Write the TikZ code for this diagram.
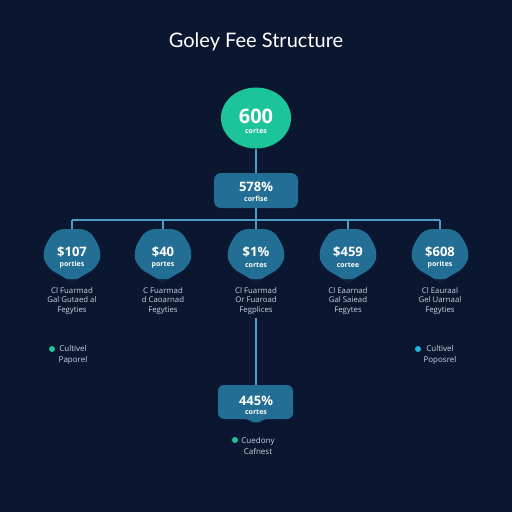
\documentclass[tikz,border=0pt]{standalone}
\usepackage{fontspec}
\setmainfont{Open Sans}
\newfontfamily\titlefont{Lato}
\usetikzlibrary{shapes.geometric}
\definecolor{bg}{HTML}{0B1730}
\definecolor{teal}{HTML}{1CC49A}
\definecolor{nodeblue}{HTML}{226E94}
\definecolor{linec}{HTML}{4C9CC8}
\definecolor{desc}{HTML}{C9D4E2}
\definecolor{cyandot}{HTML}{22B8E0}
\tikzset{
  conn/.style={draw=linec, line width=1.1pt},
  hold/.style={minimum width=58pt, minimum height=52pt, inner sep=0pt},
  bignum/.style={text=white, font=\bfseries\fontsize{13}{13}\selectfont, inner sep=0pt},
  sub/.style={font=\bfseries\fontsize{7}{7}\selectfont, text=white, inner sep=0pt},
  desctext/.style={align=center, text=desc, inner sep=0pt, font=\fontsize{7.8}{9.7}\selectfont},
  legtext/.style={align=center, text=desc, inner sep=0pt, font=\fontsize{8}{10.5}\selectfont},
  blobfill/.style={fill=nodeblue, rounded corners=9pt},
}
\newcommand{\blobshape}[2]{%
  \path[blobfill] (#1-17,#2-26) -- (#1+17,#2-26) -- (#1+30,#2-4) -- (#1+26,#2+12) -- (#1+7,#2+23) -- (#1,#2+27) -- (#1-7,#2+23) -- (#1-26,#2+12) -- (#1-30,#2-4) -- cycle;%
}
\begin{document}
\begin{tikzpicture}[x=1pt,y=-1pt]
\fill[bg] (0,0) rectangle (512,512);
\useasboundingbox (0,0) rectangle (512,512);

\node[text=white, font=\titlefont\fontsize{20}{22}\selectfont] (title) at (256,42) {Goley Fee Structure};

% top circle
\node[ellipse, fill=teal, minimum width=70pt, minimum height=61pt, inner sep=0pt] (top) at (256,118) {};
\node[text=white, font=\bfseries\fontsize{20}{20}\selectfont, inner sep=0pt] (topnum) at (256,116) {600};
\node[sub] (topsub) at (256,131) {cortes};

% middle box
\node[fill=nodeblue, rounded corners=7pt, minimum width=84pt, minimum height=35pt, inner sep=0pt] (mid) at (256,190.5) {};
\node[bignum] (midnum) at (256,187) {578\%};
\node[sub] (midsub) at (256,199) {corfise};

\draw[conn] (top.south) -- (mid.north);

\coordinate (hub) at (256,220);
\coordinate (hl) at (72,220);
\coordinate (hr) at (440,220);
\draw[conn] (mid.south) -- (hub);
\draw[conn] (hl) -- (hr);

% child nodes
\foreach \x/\n/\num/\s/\la/\lb/\lc in {
  72/n1/{\$107}/porties/{Cl Fuarmad}/{Gal Gutaed al}/{Fegyties},
  163/n2/{\$40}/portes/{C Fuarmad}/{d Caoarnad}/{Fegyties},
  256/n3/{\$1\%}/cortes/{Cl Fuarmad}/{Or Fuaroad}/{Fegplices},
  348/n4/{\$459}/cortee/{Cl Eaarnad}/{Gal Saiead}/{Fegytes},
  440/n5/{\$608}/porites/{Cl Eauraal}/{Gel Uarnaal}/{Fegyties}}{
  \blobshape{\x}{255}
  \node[hold] (\n) at (\x,255) {};
  \node[bignum] (\n num) at (\x,252) {\num};
  \node[sub] (\n sub) at (\x,265) {\s};
  \draw[conn] (\n.north |- hl) -- (\n.north);
  \node[desctext, anchor=north] (\n d) at (\x,287) {\la\\\lb\\\lc};
}

% legends
\fill[teal] (52,349) circle (3pt);
\node[legtext] (leg1) at (73,355) {Cultivel\\Paporel};
\fill[cyandot] (418,349) circle (3pt);
\node[legtext] (leg2) at (440,355) {Cultivel\\Poposrel};

% bottom box
\path[fill=nodeblue, rounded corners=6pt] (218,385) -- (293,385) -- (293,419) -- (262,419) -- (256,425) -- (250,419) -- (218,419) -- cycle;
\node[minimum width=76pt, minimum height=34pt, inner sep=0pt] (bot) at (256,402) {};
\node[bignum] (botnum) at (256,401) {445\%};
\node[sub] (botsub) at (256,412) {cortes};
\coordinate (botstart) at (256,318);
\draw[conn] (botstart) -- (bot.north);

\fill[teal] (235,440) circle (3pt);
\node[legtext] (leg3) at (258,446) {Cuedony\\Cafnest};
\end{tikzpicture}
\end{document}
